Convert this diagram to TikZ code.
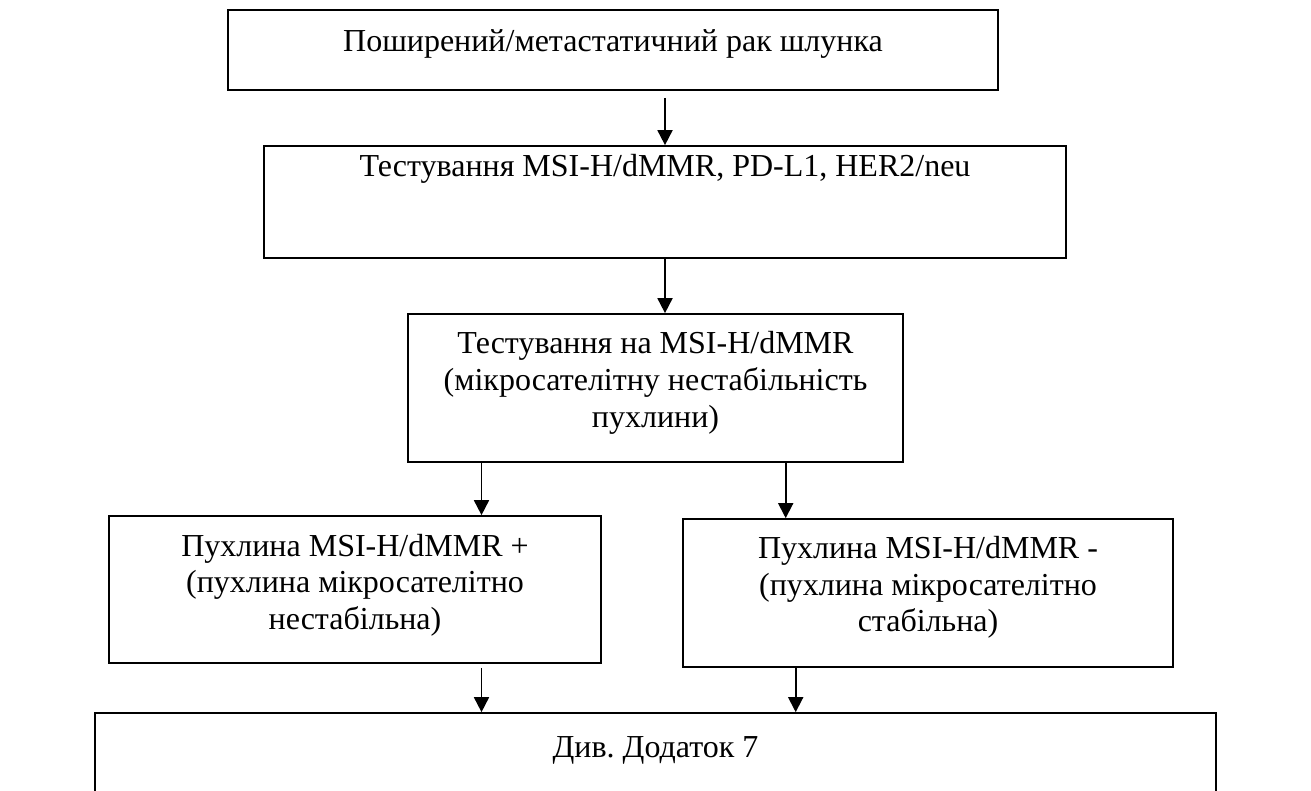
\documentclass[tikz,border=0pt]{standalone}
\usepackage{fontspec}
\setmainfont{Liberation Serif}
\usetikzlibrary{arrows.meta}
\begin{document}
\frenchspacing
\begin{tikzpicture}[x=0.5pt,y=-0.5pt,
  box/.style={draw=black, line width=0.85pt, rectangle, inner sep=0pt, fill=none},
  txt/.style={inner sep=0pt, anchor=base, align=center, font=\fontsize{16pt}{18.3pt}\selectfont},
  arr/.style={draw=black, line width=0.9pt, -{Triangle[length=7.5pt,width=7.5pt]}}]
\useasboundingbox (0,0) rectangle (1311,791);
% boxes
\node[box, minimum width=385pt, minimum height=40pt] (b1) at (613,50) {};
\node[box, minimum width=401pt, minimum height=56pt] (b2) at (665,202) {};
\node[box, minimum width=247.5pt, minimum height=74pt] (b3) at (655.5,388) {};
\node[box, minimum width=246pt, minimum height=73.5pt] (b4) at (355,589.5) {};
\node[box, minimum width=245pt, minimum height=74pt] (b5) at (928,593) {};
\node[box, minimum width=560.5pt, minimum height=45pt] (b6) at (655.5,758) {};
% texts (base anchor = last line)
\node[txt] (t1) at (613,51.7) {Поширений/метастатичний рак шлунка};
\node[txt] (t2) at (665,177) {Тестування MSI-H/dMMR, PD-L1, HER2/neu};
\node[txt] (t3) at (655.5,427) {Тестування на MSI-H/dMMR\\(мікросателітну нестабільність\\пухлини)};
\node[txt] (t4) at (355,629.5) {Пухлина MSI-H/dMMR +\\(пухлина мікросателітно\\нестабільна)};
\node[txt] (t5) at (928,631.7) {Пухлина MSI-H/dMMR -\\(пухлина мікросателітно\\стабільна)};
\node[txt] (t6) at (655.5,757) {Див. Додаток 7};
% helper x positions
\coordinate (xa) at (481.5,0);
\coordinate (xb) at (785.7,0);
\coordinate (xc) at (795.7,0);
% arrows
\draw[arr] ([yshift=-3.5pt]b2.north |- b1.south) -- (b2.north);
\draw[arr] (b2.south) -- (b2.south |- b3.north);
\draw[arr] (xa |- b3.south) -- (xa |- b4.north);
\draw[arr] (xb |- b3.south) -- (xb |- b5.north);
\draw[arr] (xa |- b5.south) -- (xa |- b6.north);
\draw[arr] (xc |- b5.south) -- (xc |- b6.north);
\end{tikzpicture}
\end{document}
